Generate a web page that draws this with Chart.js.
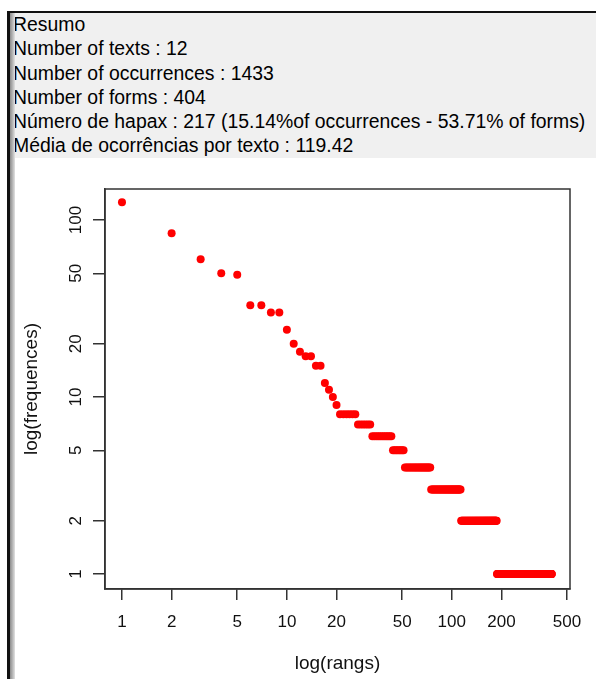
<!DOCTYPE html>
<html>
<head>
<meta charset="utf-8">
<script src="https://cdn.jsdelivr.net/npm/chart.js@4/dist/chart.umd.min.js"></script>
<style>
  html, body { margin: 0; padding: 0; background: #ffffff; width: 596px; height: 679px; overflow: hidden; }
  #header {
    position: absolute; left: 9px; top: 12px; width: 587px; height: 146px;
    background: #f0f0f0; font-family: "Liberation Sans", Arial, sans-serif;
    font-size: 19.4px; line-height: 24.3px; color: #000; padding-left: 4px; box-sizing: border-box;
    white-space: nowrap;
  }
  #topline { position: absolute; left: 7px; top: 11px; width: 589px; height: 2px; background: #111; z-index: 3; }
  #leftline { position: absolute; left: 7px; top: 11px; width: 2.5px; height: 668px; background: #111; z-index: 3; }
  #leftshade { position: absolute; left: 9.5px; top: 13px; width: 5px; height: 666px;
    background: linear-gradient(to right, #8c8c8c, #b5b5b5, #e2e2e2); z-index: 2; }
  #wrap { position: absolute; left: 0; top: 160px; width: 596px; height: 519px; }
</style>
</head>
<body>
<div id="header">
  <div>Resumo</div>
  <div>Number of texts : 12</div>
  <div>Number of occurrences : 1433</div>
  <div>Number of forms : 404</div>
  <div>Número de hapax : 217 (15.14%of occurrences - 53.71% of forms)</div>
  <div>Média de ocorrências por texto : 119.42</div>
</div>
<div id="topline"></div>
<div id="leftline"></div>
<div id="leftshade"></div>
<div id="wrap"><canvas id="c" width="596" height="519"></canvas></div>
<script>
// Frequency levels (occurrences of a form) and how many forms share each level, in rank order
const freqLevels   = [126, 84, 60, 50, 49, 33, 30, 24, 20, 18, 17, 15, 12, 11, 10, 9, 8, 7, 6, 5, 4, 3, 2, 1];
const formsAtLevel = [  1,  1,  1,  1,  1,  2,  2,  1,  1,  1,  2,  2,  1,  1,  1, 1, 6, 6, 11, 8, 23, 39, 74, 217];

const xTickValues = [1, 2, 5, 10, 20, 50, 100, 200, 500];
const yTickValues = [1, 2, 5, 10, 20, 50, 100];

const xTitle = 'log(rangs)';
const yTitle = 'log(frequences)';

// rank / frequency pairs
const points = [];
let rank = 1;
freqLevels.forEach((f, i) => {
  for (let k = 0; k < formsAtLevel[i]; k++) { points.push({ x: rank, y: f }); rank++; }
});

const FONT = "'Liberation Sans', Arial, sans-serif";
const INK = '#333333';

const boxPlugin = {
  id: 'box',
  afterDraw(chart) {
    const { ctx, chartArea: a } = chart;
    ctx.save();
    ctx.strokeStyle = INK;
    ctx.lineWidth = 1.5;
    ctx.strokeRect(a.left, a.top, a.right - a.left, a.bottom - a.top);
    ctx.restore();
  }
};

new Chart(document.getElementById('c'), {
  type: 'scatter',
  data: {
    datasets: [{
      data: points,
      pointRadius: 4,
      pointHoverRadius: 4,
      pointBackgroundColor: '#ff0000',
      pointBorderColor: '#ff0000',
      pointBorderWidth: 0,
      showLine: false
    }]
  },
  options: {
    responsive: false,
    animation: false,
    events: [],
    layout: { padding: { left: 0, right: 26, top: 29, bottom: 0 } },
    plugins: { legend: { display: false }, tooltip: { enabled: false } },
    scales: {
      x: {
        type: 'logarithmic',
        min: 0.789, max: 521,
        afterBuildTicks: (s) => { s.ticks = xTickValues.map(v => ({ value: v })); },
        afterFit: (s) => { s.height = 90; },
        grid: { drawOnChartArea: false, drawTicks: true, tickLength: 11, color: INK, lineWidth: 1.5 },
        border: { display: true, color: INK, width: 1.5 },
        ticks: {
          autoSkip: false, maxRotation: 0, minRotation: 0, padding: 12,
          color: '#111', font: { family: FONT, size: 17 },
          callback: (v) => String(v)
        },
        title: { display: true, text: xTitle, color: '#111', font: { family: FONT, size: 19 }, padding: { top: 0, bottom: 4 } }
      },
      y: {
        type: 'logarithmic',
        min: 0.823, max: 149.6,
        afterBuildTicks: (s) => { s.ticks = yTickValues.map(v => ({ value: v })); },
        afterFit: (s) => { s.width = 105; },
        grid: { drawOnChartArea: false, drawTicks: true, tickLength: 12, color: INK, lineWidth: 1.5 },
        border: { display: true, color: INK, width: 1.5 },
        ticks: {
          autoSkip: false, minRotation: 90, maxRotation: 90, crossAlign: 'center', padding: 3,
          color: '#111', font: { family: FONT, size: 17 },
          callback: (v) => String(v)
        },
        title: { display: true, text: yTitle, color: '#111', font: { family: FONT, size: 19 }, padding: { top: 20, bottom: 0 } }
      }
    }
  },
  plugins: [boxPlugin]
});
</script>
</body>
</html>
